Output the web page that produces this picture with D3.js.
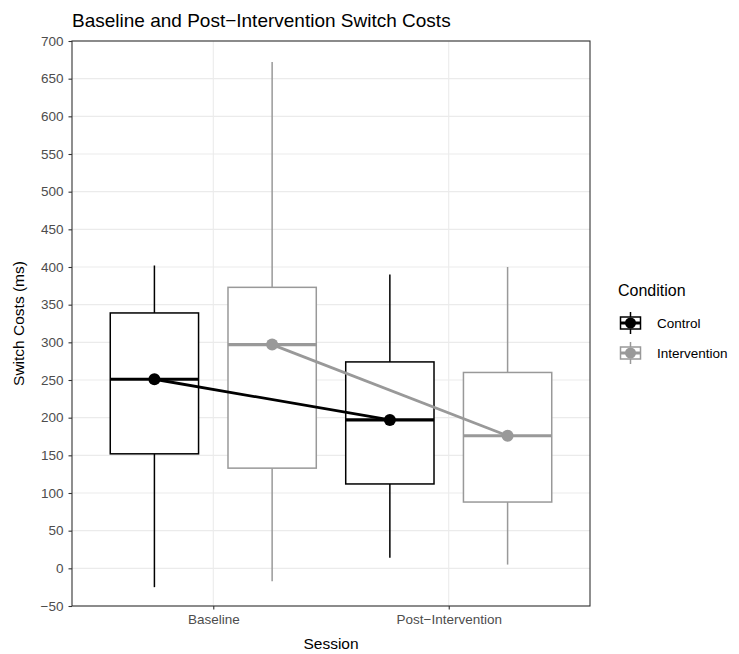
<!DOCTYPE html>
<html>
<head>
<meta charset="utf-8">
<script src="https://cdn.jsdelivr.net/npm/d3@7"></script>
<style>
  body { margin: 0; background: #fff; }
  svg text { font-family: "Liberation Sans", Arial, sans-serif; }
</style>
</head>
<body>
<svg id="chart" width="739" height="654"></svg>
<script>
// Sessions and conditions
const sessions = ["Baseline", "Post\u2212Intervention"];
const conditions = ["Control", "Intervention"];
const conditionColors = ["#000000", "#999999"];

// Box statistics per condition, one value per session (ms)
const lowerWhisker = { Control: [-25, 14],  Intervention: [-17, 5] };
const q1           = { Control: [152, 112], Intervention: [133, 88] };
const median       = { Control: [251, 197], Intervention: [297, 176] };
const q3           = { Control: [339, 274], Intervention: [373, 260] };
const upperWhisker = { Control: [402, 390], Intervention: [672, 400] };
const meanValue    = { Control: [251, 197], Intervention: [297, 176] };

const yTicks = d3.range(-50, 701, 50);

const svg = d3.select("#chart");
const margin = { left: 72, right: 590, top: 41, bottom: 606 };

const x = d3.scalePoint().domain(sessions).range([margin.left, margin.right]).padding(0.6);
const y = d3.scaleLinear().domain([-50, 700]).range([margin.bottom, margin.top]);
const step = x.step();
const dodge = d3.scalePoint().domain(conditions).range([-0.25 * step, 0.25 * step]);
const boxW = 0.375 * step;
const color = d3.scaleOrdinal().domain(conditions).range(conditionColors);

// Panel background and grid
const plotW = margin.right - margin.left, plotH = margin.bottom - margin.top;
svg.append("rect").attr("x", margin.left).attr("y", margin.top)
  .attr("width", plotW).attr("height", plotH).attr("fill", "#fff");

const grid = svg.append("g");
grid.selectAll("line.h").data(yTicks).join("line")
  .attr("x1", margin.left).attr("x2", margin.right)
  .attr("y1", d => y(d)).attr("y2", d => y(d))
  .attr("stroke", "#ebebeb").attr("stroke-width", 1.1);
grid.selectAll("line.v").data(sessions).join("line")
  .attr("x1", d => x(d)).attr("x2", d => x(d))
  .attr("y1", margin.top).attr("y2", margin.bottom)
  .attr("stroke", "#ebebeb").attr("stroke-width", 1.1);

// Boxplots
const boxes = [];
conditions.forEach(c => sessions.forEach((s, i) => boxes.push({
  c, s, lo: lowerWhisker[c][i], q1: q1[c][i], med: median[c][i], q3: q3[c][i], hi: upperWhisker[c][i]
})));

const bg = svg.append("g");
boxes.forEach(b => {
  const cx = x(b.s) + dodge(b.c);
  const g = bg.append("g").attr("stroke", color(b.c)).attr("fill", "none");
  g.append("line").attr("x1", cx).attr("x2", cx).attr("y1", y(b.hi)).attr("y2", y(b.q3)).attr("stroke-width", 1.5);
  g.append("line").attr("x1", cx).attr("x2", cx).attr("y1", y(b.q1)).attr("y2", y(b.lo)).attr("stroke-width", 1.5);
  g.append("rect").attr("x", cx - boxW / 2).attr("y", y(b.q3))
    .attr("width", boxW).attr("height", y(b.q1) - y(b.q3))
    .attr("fill", "#fff").attr("stroke-width", 1.5);
  g.append("line").attr("x1", cx - boxW / 2).attr("x2", cx + boxW / 2)
    .attr("y1", y(b.med)).attr("y2", y(b.med)).attr("stroke-width", 3.2);
});

// Mean lines and points
const lg = svg.append("g");
conditions.forEach(c => {
  const pts = sessions.map((s, i) => [x(s) + dodge(c), y(meanValue[c][i])]);
  lg.append("path").attr("d", d3.line()(pts)).attr("fill", "none")
    .attr("stroke", color(c)).attr("stroke-width", 2.8);
  lg.selectAll(null).data(pts).join("circle")
    .attr("cx", d => d[0]).attr("cy", d => d[1]).attr("r", 6)
    .attr("fill", color(c));
});

// Panel border
svg.append("rect").attr("x", margin.left).attr("y", margin.top)
  .attr("width", plotW).attr("height", plotH)
  .attr("fill", "none").attr("stroke", "#333333").attr("stroke-width", 1.1);

// Axes
const yAxis = svg.append("g").attr("transform", `translate(${margin.left},0)`)
  .call(d3.axisLeft(y).tickValues(yTicks).tickSize(3.5).tickPadding(5)
    .tickFormat(d => d < 0 ? "\u2212" + Math.abs(d) : d));
const xAxis = svg.append("g").attr("transform", `translate(0,${margin.bottom})`)
  .call(d3.axisBottom(x).tickSize(3.5).tickPadding(5));
[yAxis, xAxis].forEach(a => {
  a.select(".domain").remove();
  a.selectAll(".tick line").attr("stroke", "#333333").attr("stroke-width", 1.1);
  a.selectAll(".tick text").attr("fill", "#4d4d4d").style("font-size", "13.5px");
});

// Titles
svg.append("text").attr("x", margin.left).attr("y", 27)
  .style("font-size", "19px").attr("fill", "#000")
  .text("Baseline and Post\u2212Intervention Switch Costs");
svg.append("text").attr("x", (margin.left + margin.right) / 2).attr("y", 649)
  .attr("text-anchor", "middle").style("font-size", "15.5px")
  .text("Session");
svg.append("text")
  .attr("transform", `translate(24,${(margin.top + margin.bottom) / 2}) rotate(-90)`)
  .attr("text-anchor", "middle").style("font-size", "15.5px")
  .text("Switch Costs (ms)");

// Legend
const legend = svg.append("g").attr("transform", "translate(618,0)");
legend.append("text").attr("x", 0).attr("y", 296).style("font-size", "16px").text("Condition");
conditions.forEach((c, i) => {
  const cy = 323 + i * 30, kx = 12.5;
  const g = legend.append("g").attr("stroke", color(c)).attr("fill", "none");
  g.append("line").attr("x1", kx).attr("x2", kx).attr("y1", cy - 11).attr("y2", cy + 11).attr("stroke-width", 1.5);
  g.append("rect").attr("x", kx - 10).attr("y", cy - 6).attr("width", 20).attr("height", 12)
    .attr("fill", "#fff").attr("stroke-width", 1.5);
  g.append("line").attr("x1", kx - 10).attr("x2", kx + 10).attr("y1", cy).attr("y2", cy).attr("stroke-width", 3);
  g.append("circle").attr("cx", kx).attr("cy", cy).attr("r", 5.5).attr("fill", color(c)).attr("stroke", "none");
  legend.append("text").attr("x", 39).attr("y", cy + 5).style("font-size", "13.5px").text(c);
});
</script>
</body>
</html>
